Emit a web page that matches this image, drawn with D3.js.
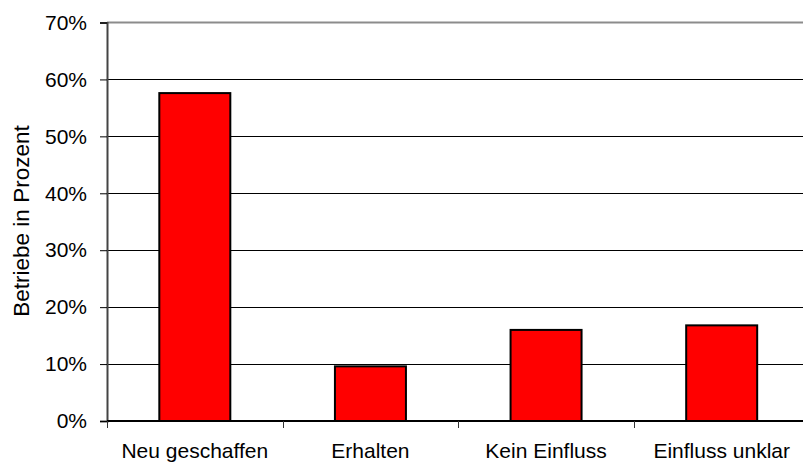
<!DOCTYPE html>
<html>
<head>
<meta charset="utf-8">
<script src="https://cdn.jsdelivr.net/npm/d3@7"></script>
<style>
  html, body { margin: 0; padding: 0; background: #fff; }
  svg { display: block; font-family: "Liberation Sans", Arial, sans-serif; }
</style>
</head>
<body>
<svg id="chart" width="803" height="463"></svg>
<script>
// Share of establishments by effect category
const categories = ["Neu geschaffen", "Erhalten", "Kein Einfluss", "Einfluss unklar"];
const values = [57.6, 9.6, 16.0, 16.8];
const yTicks = [0, 10, 20, 30, 40, 50, 60, 70];
const yTitle = "Betriebe in Prozent";

const svg = d3.select("#chart");
const plotLeft = 107, plotRight = 809.5, plotTop = 22.5, plotBottom = 421;
const fontSize = 21;

const xBand = d3.scaleBand().domain(categories).range([plotLeft, plotRight]);
const y = d3.scaleLinear().domain([0, 70]).range([plotBottom, plotTop]);

// horizontal gridlines
svg.append("g").selectAll("line").data(yTicks.filter(t => t > 0 && t < 70)).join("line")
  .attr("x1", plotLeft).attr("x2", plotRight)
  .attr("y1", d => Math.round(y(d)) + 0.5).attr("y2", d => Math.round(y(d)) + 0.5)
  .attr("stroke", "#000").attr("stroke-width", 1);

// plot-area top border
svg.append("line").attr("x1", plotLeft).attr("x2", plotRight)
  .attr("y1", y(70)).attr("y2", y(70))
  .attr("stroke", "#8c8c8c").attr("stroke-width", 2);

// bars
svg.append("g").selectAll("rect").data(values).join("rect")
  .attr("x", (d, i) => xBand(categories[i]) + xBand.bandwidth() / 2 - 35.5)
  .attr("width", 71)
  .attr("y", d => y(d))
  .attr("height", d => y(0) - y(d))
  .attr("fill", "#ff0000")
  .attr("stroke", "#000").attr("stroke-width", 2);

// y axis
const yAxis = d3.axisLeft(y).tickValues(yTicks).tickSize(7).tickPadding(13)
  .tickFormat(d => d + "%");
const gy = svg.append("g").attr("transform", `translate(${plotLeft},0)`).call(yAxis);
gy.select(".domain").attr("stroke", "#444").attr("stroke-width", 2);
gy.selectAll(".tick line").attr("stroke", "#000");
gy.selectAll("text").attr("font-size", fontSize).attr("fill", "#000")
  .attr("font-family", "Liberation Sans, Arial, sans-serif");

// x axis: ticks at category boundaries
const gx = svg.append("g").attr("transform", `translate(0,${plotBottom})`);
gx.append("line").attr("x1", plotLeft).attr("x2", plotRight).attr("y1", 0).attr("y2", 0)
  .attr("stroke", "#000").attr("stroke-width", 2);
gx.selectAll("line.tick").data(categories).join("line").attr("class", "tick")
  .attr("x1", d => Math.round(xBand(d)) + 0.5).attr("x2", d => Math.round(xBand(d)) + 0.5)
  .attr("y1", 0).attr("y2", 7).attr("stroke", "#333").attr("stroke-width", 1);
gx.selectAll("text").data(categories).join("text")
  .attr("x", d => xBand(d) + xBand.bandwidth() / 2)
  .attr("y", 37)
  .attr("text-anchor", "middle")
  .attr("font-size", fontSize).attr("fill", "#000")
  .text(d => d);

// y axis title
svg.append("text")
  .attr("transform", `translate(29,221) rotate(-90)`)
  .attr("text-anchor", "middle")
  .attr("font-size", 22.5).attr("fill", "#000")
  .text(yTitle);
</script>
</body>
</html>
